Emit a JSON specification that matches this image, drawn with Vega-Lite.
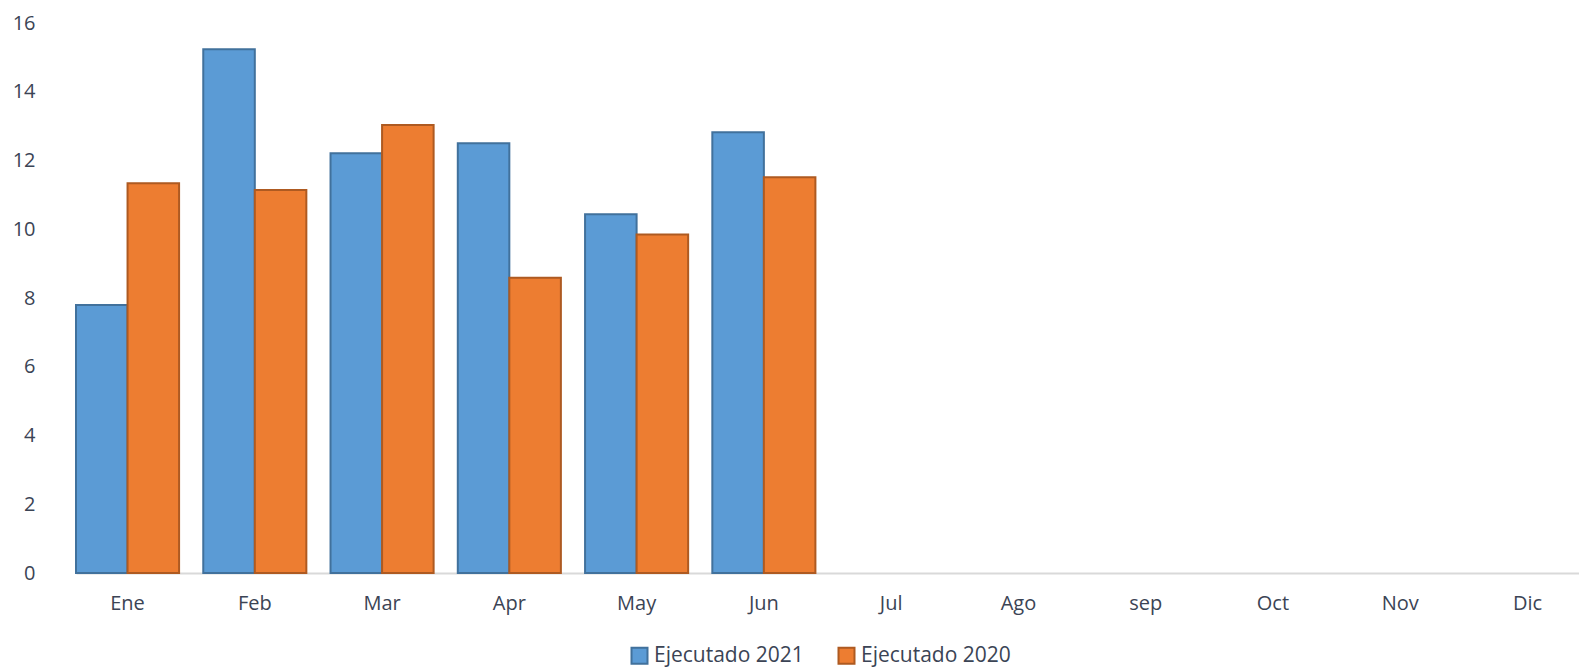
{
  "$schema": "https://vega.github.io/schema/vega-lite/v6.json",
  "width": 1503,
  "height": 550,
  "autosize": "none",
  "padding": {"left": 76, "top": 23, "right": 0, "bottom": 94},
  "background": "white",
  "config": {"view": {"stroke": null}, "font": "Open Sans"},
  "data": {
    "values": [
      {"mes": "Ene", "serie": "Ejecutado 2021", "valor": 7.8},
      {"mes": "Ene", "serie": "Ejecutado 2020", "valor": 11.34},
      {"mes": "Feb", "serie": "Ejecutado 2021", "valor": 15.24},
      {"mes": "Feb", "serie": "Ejecutado 2020", "valor": 11.14},
      {"mes": "Mar", "serie": "Ejecutado 2021", "valor": 12.21},
      {"mes": "Mar", "serie": "Ejecutado 2020", "valor": 13.03},
      {"mes": "Apr", "serie": "Ejecutado 2021", "valor": 12.5},
      {"mes": "Apr", "serie": "Ejecutado 2020", "valor": 8.59},
      {"mes": "May", "serie": "Ejecutado 2021", "valor": 10.44},
      {"mes": "May", "serie": "Ejecutado 2020", "valor": 9.85},
      {"mes": "Jun", "serie": "Ejecutado 2021", "valor": 12.82},
      {"mes": "Jun", "serie": "Ejecutado 2020", "valor": 11.51}
    ]
  },
  "mark": {"type": "bar", "strokeWidth": 2},
  "encoding": {
    "x": {
      "field": "mes",
      "type": "nominal",
      "scale": {
        "domain": ["Ene", "Feb", "Mar", "Apr", "May", "Jun", "Jul", "Ago", "sep", "Oct", "Nov", "Dic"],
        "paddingInner": 0.19,
        "paddingOuter": 0
      },
      "axis": {
        "title": null,
        "labelAngle": 0,
        "ticks": false,
        "domainColor": "#d9d9d9",
        "domainWidth": 2,
        "labelFontSize": 20,
        "labelColor": "#3b4455",
        "labelPadding": 20
      }
    },
    "xOffset": {
      "field": "serie",
      "scale": {"domain": ["Ejecutado 2021", "Ejecutado 2020"], "paddingInner": 0, "paddingOuter": 0}
    },
    "y": {
      "field": "valor",
      "type": "quantitative",
      "scale": {"domain": [0, 16]},
      "axis": {
        "title": null,
        "values": [0, 2, 4, 6, 8, 10, 12, 14, 16],
        "grid": false,
        "domain": false,
        "ticks": false,
        "labelFontSize": 20,
        "labelColor": "#3b4455",
        "labelPadding": 41
      }
    },
    "fill": {
      "field": "serie",
      "type": "nominal",
      "scale": {"domain": ["Ejecutado 2021", "Ejecutado 2020"], "range": ["#5b9bd5", "#ed7d31"]},
      "legend": {
        "title": null,
        "orient": "none",
        "direction": "horizontal",
        "legendX": 553,
        "legendY": 622,
        "symbolType": "square",
        "symbolSize": 256,
        "symbolStrokeWidth": 2,
        "labelFontSize": 21,
        "labelColor": "#3b4455",
        "labelOffset": 4,
        "columnPadding": 30
      }
    },
    "stroke": {
      "field": "serie",
      "type": "nominal",
      "scale": {"domain": ["Ejecutado 2021", "Ejecutado 2020"], "range": ["#41719c", "#ae5a21"]},
      "legend": null
    }
  }
}
